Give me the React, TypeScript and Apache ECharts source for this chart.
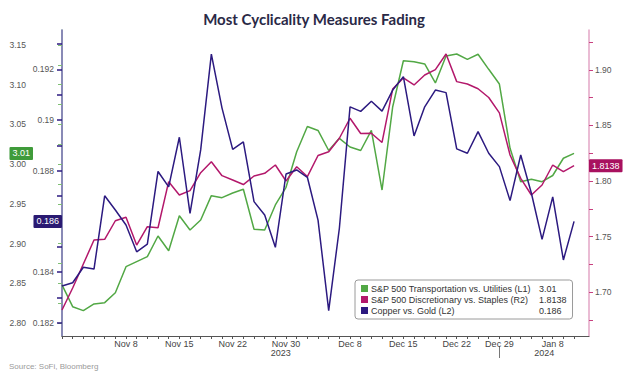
import React, { useEffect, useRef } from 'react';
import * as echarts from 'echarts';

// Trading days, Oct 31 2023 .. Jan 10 2024
const DATES = [
  'Oct 31', 'Nov 1', 'Nov 2', 'Nov 3', 'Nov 6', 'Nov 7', 'Nov 8', 'Nov 9', 'Nov 10', 'Nov 13',
  'Nov 14', 'Nov 15', 'Nov 16', 'Nov 17', 'Nov 20', 'Nov 21', 'Nov 22', 'Nov 24', 'Nov 27', 'Nov 28',
  'Nov 29', 'Nov 30', 'Dec 1', 'Dec 4', 'Dec 5', 'Dec 6', 'Dec 7', 'Dec 8', 'Dec 11', 'Dec 12',
  'Dec 13', 'Dec 14', 'Dec 15', 'Dec 18', 'Dec 19', 'Dec 20', 'Dec 21', 'Dec 22', 'Dec 26', 'Dec 27',
  'Dec 28', 'Dec 29', 'Jan 2', 'Jan 3', 'Jan 4', 'Jan 5', 'Jan 8', 'Jan 9', 'Jan 10',
];

const X_LABEL_DATES = ['Nov 8', 'Nov 15', 'Nov 22', 'Nov 30', 'Dec 8', 'Dec 15', 'Dec 22', 'Dec 29', 'Jan 8'];
const YEAR_LABELS = ['2023', '2024'];
const YEAR_BREAK_DATE = 'Dec 29';

// S&P 500 Transportation vs. Utilities (L1)
const TRANSPORT_UTIL = [
  2.848, 2.8205, 2.8155, 2.824, 2.8256, 2.8381, 2.8709, 2.8772, 2.8835, 2.9095,
  2.891, 2.935, 2.917, 2.9297, 2.9603, 2.9578, 2.9637, 2.9683, 2.918, 2.917,
  2.9486, 2.9708, 3.0157, 3.0474, 3.0424, 3.0172, 3.0325, 3.0216, 3.0172, 3.0424,
  2.9674, 3.0723, 3.1302, 3.129, 3.1261, 3.1022, 3.1362, 3.1387, 3.132, 3.1383,
  3.1194, 3.1009, 3.02, 2.9779, 2.9809, 2.9779, 2.9857, 3.0074, 3.0135,
];

// S&P 500 Discretionary vs. Staples (R2)
const DISC_STAPLES = [
  1.6838, 1.7036, 1.7252, 1.7468, 1.7475, 1.7642, 1.7673, 1.7423, 1.7588, 1.7579,
  1.7994, 1.7874, 1.7913, 1.8075, 1.8174, 1.8048, 1.8009, 1.7968, 1.8045, 1.8069,
  1.8144, 1.8, 1.8129, 1.804, 1.823, 1.8264, 1.8385, 1.8565, 1.8428, 1.843,
  1.8347, 1.8829, 1.8928, 1.8865, 1.8955, 1.9003, 1.9144, 1.8895, 1.8874, 1.8831,
  1.8752, 1.8613, 1.8234, 1.8024, 1.7874, 1.7964, 1.8144, 1.8084, 1.8138,
];

// Copper vs. Gold (L2)
const COPPER_GOLD = [
  0.18345, 0.18358, 0.18419, 0.18412, 0.18701, 0.18645, 0.18586, 0.1848, 0.1851, 0.18797,
  0.18736, 0.18932, 0.18632, 0.18882, 0.1926, 0.19047, 0.18884, 0.18914, 0.18678, 0.18625,
  0.18498, 0.18787, 0.18803, 0.18774, 0.18605, 0.18248, 0.18573, 0.19052, 0.19034, 0.19074,
  0.19035, 0.19118, 0.19171, 0.18937, 0.19052, 0.19118, 0.19108, 0.18886, 0.18869, 0.18954,
  0.18869, 0.18816, 0.18682, 0.18862, 0.18711, 0.18529, 0.18697, 0.18448, 0.186,
];

const SERIES_NAMES = [
  'S&P 500 Transportation vs. Utilities (L1)',
  'S&P 500 Discretionary vs. Staples (R2)',
  'Copper vs. Gold (L2)',
];
const LAST_VALUE_TEXT = ['3.01', '1.8138', '0.186'];

const L1_LABELS = [2.8, 2.85, 2.9, 2.95, 3.0, 3.05, 3.1, 3.15];
const L1_TICKS = [2.8, 2.825, 2.85, 2.875, 2.9, 2.925, 2.95, 2.975, 3.0, 3.025, 3.05, 3.075, 3.1, 3.125, 3.15];
const L2_LABELS = [0.182, 0.184, 0.188, 0.19, 0.192];
const L2_TICKS = [0.182, 0.183, 0.184, 0.185, 0.186, 0.187, 0.188, 0.189, 0.19, 0.191, 0.192, 0.193];
const R2_LABELS = [1.7, 1.75, 1.8, 1.85, 1.9];
const R2_TICKS = [1.675, 1.7, 1.725, 1.75, 1.775, 1.8, 1.825, 1.85, 1.875, 1.9, 1.925];

const GREEN = '#52a845';
const MAGENTA = '#b3186b';
const NAVY = '#2c1a80';
const FONT = 'Liberation Sans';

export default function App() {
  const ref = useRef<HTMLDivElement>(null);

  useEffect(() => {
    if (!ref.current) return;
    const chart = echarts.init(ref.current, null, { renderer: 'svg' });

    const xMax = 49.4;
    const labelIdx = X_LABEL_DATES.map((d) => DATES.indexOf(d));
    const breakIdx = DATES.indexOf(YEAR_BREAK_DATE);
    const last = DATES.length - 1;
    const yearPos = [breakIdx / 2, (breakIdx + xMax) / 2];
    const toPairs = (arr: number[]) => arr.map((v, i) => [i, v]);

    const tag = (bg: string, text: string, value: number) => ({
      show: true,
      type: 'line',
      value,
      status: 'show',
      snap: false,
      triggerTooltip: false,
      lineStyle: { opacity: 0, width: 0 },
      label: {
        show: true,
        formatter: () => text,
        backgroundColor: bg,
        color: '#fff',
        fontSize: 9,
        fontFamily: FONT,
        padding: [2, 3, 2, 3],
        margin: 0,
        borderRadius: 1,
      },
    });

    const yCommon = {
      type: 'value',
      splitLine: { show: false },
      axisTick: { show: true, length: 4 },
      axisLabel: { fontSize: 8.5, color: '#555', fontFamily: FONT },
    };

    chart.setOption({
      animation: false,
      textStyle: { fontFamily: FONT },
      title: [
        {
          text: 'Most Cyclicality Measures Fading',
          left: 'center',
          top: 6,
          textStyle: { fontFamily: 'Lato', fontWeight: 'bold', fontSize: 15, color: '#2a2946' },
        },
        {
          text: 'Source: SoFi, Bloomberg',
          left: 4,
          top: 357,
          textStyle: { fontFamily: FONT, fontWeight: 'normal', fontSize: 8, color: '#9a9a9a' },
        },
      ],
      grid: { left: 62, right: 39, top: 30, bottom: 42, containLabel: false },
      legend: {
        orient: 'vertical',
        left: 355,
        top: 280,
        backgroundColor: '#fff',
        borderColor: '#9a9a9a',
        borderWidth: 1,
        borderRadius: 3,
        padding: [4, 6, 4, 6],
        itemGap: 2,
        itemWidth: 7,
        itemHeight: 7,
        icon: 'rect',
        data: SERIES_NAMES,
        formatter: (name: string) => `{n|${name}}{v|${LAST_VALUE_TEXT[SERIES_NAMES.indexOf(name)]}}`,
        textStyle: {
          fontSize: 9,
          color: '#333',
          fontFamily: FONT,
          padding: [0, 0, 0, -2],
          rich: {
            n: { width: 168, fontSize: 9, fontFamily: FONT, color: '#333' },
            v: { fontSize: 9, fontFamily: FONT, color: '#333' },
          },
        },
      },
      xAxis: [
        {
          type: 'value',
          min: 0,
          max: xMax,
          splitLine: { show: false },
          axisLine: { show: true, lineStyle: { color: '#555', width: 1 } },
          axisTick: { show: true, length: 3, customValues: DATES.map((_, i) => i), lineStyle: { color: '#555' } },
          axisLabel: {
            customValues: labelIdx,
            formatter: (v: number) => DATES[Math.round(v)],
            fontSize: 9,
            color: '#444',
            margin: 3,
            fontFamily: FONT,
          },
        },
        {
          type: 'value',
          min: 0,
          max: xMax,
          position: 'bottom',
          offset: 10,
          splitLine: { show: false },
          axisLine: { show: false },
          axisTick: { show: true, length: 12, customValues: [breakIdx], lineStyle: { color: '#777' } },
          axisLabel: {
            customValues: yearPos,
            formatter: (v: number) => (v < breakIdx ? YEAR_LABELS[0] : YEAR_LABELS[1]),
            fontSize: 9,
            color: '#444',
            margin: 2,
            fontFamily: FONT,
          },
        },
      ],
      yAxis: [
        {
          ...yCommon,
          position: 'left',
          offset: 29,
          min: 2.7836,
          max: 3.1689,
          axisLine: { show: true, lineStyle: { color: '#9fd196', width: 1.5 } },
          axisTick: { show: true, length: 4, customValues: L1_TICKS, lineStyle: { color: '#7fbf74' } },
          axisLabel: { ...yCommon.axisLabel, customValues: L1_LABELS, formatter: (v: number) => v.toFixed(2), margin: 7 },
          axisPointer: tag('#3f9b3a', LAST_VALUE_TEXT[0], TRANSPORT_UTIL[last]),
        },
        {
          ...yCommon,
          position: 'left',
          offset: 0,
          min: 0.18148,
          max: 0.19355,
          axisLine: { show: true, lineStyle: { color: '#7a6fb8', width: 1.5 } },
          axisTick: { show: true, length: 5, customValues: L2_TICKS, lineStyle: { color: NAVY, width: 1.5 } },
          axisLabel: { ...yCommon.axisLabel, customValues: L2_LABELS, formatter: (v: number) => String(+v.toFixed(3)), margin: 8 },
          axisPointer: tag('#2a1a72', LAST_VALUE_TEXT[2], COPPER_GOLD[last]),
        },
        {
          ...yCommon,
          position: 'right',
          offset: 0,
          min: 1.6604,
          max: 1.936,
          axisLine: { show: true, lineStyle: { color: '#e3a6c6', width: 1.5 } },
          axisTick: { show: true, length: 4, customValues: R2_TICKS, lineStyle: { color: '#c8407f' } },
          axisLabel: { ...yCommon.axisLabel, customValues: R2_LABELS, formatter: (v: number) => v.toFixed(2), margin: 6 },
          axisPointer: tag('#a8115f', LAST_VALUE_TEXT[1], DISC_STAPLES[last]),
        },
      ],
      series: [
        {
          name: SERIES_NAMES[0],
          type: 'line',
          xAxisIndex: 0,
          yAxisIndex: 0,
          data: toPairs(TRANSPORT_UTIL),
          showSymbol: false,
          symbol: 'none',
          color: GREEN,
          lineStyle: { width: 1.5, color: GREEN },
        },
        {
          name: SERIES_NAMES[1],
          type: 'line',
          xAxisIndex: 0,
          yAxisIndex: 2,
          data: toPairs(DISC_STAPLES),
          showSymbol: false,
          symbol: 'none',
          color: MAGENTA,
          lineStyle: { width: 1.5, color: MAGENTA },
        },
        {
          name: SERIES_NAMES[2],
          type: 'line',
          xAxisIndex: 0,
          yAxisIndex: 1,
          data: toPairs(COPPER_GOLD),
          showSymbol: false,
          symbol: 'none',
          color: NAVY,
          lineStyle: { width: 1.5, color: NAVY },
        },
      ],
    });

    return () => chart.dispose();
  }, []);

  return (
    <div
      ref={ref}
      style={{ position: 'absolute', left: 0, top: 0, width: 628, height: 378, background: '#fff' }}
    />
  );
}
